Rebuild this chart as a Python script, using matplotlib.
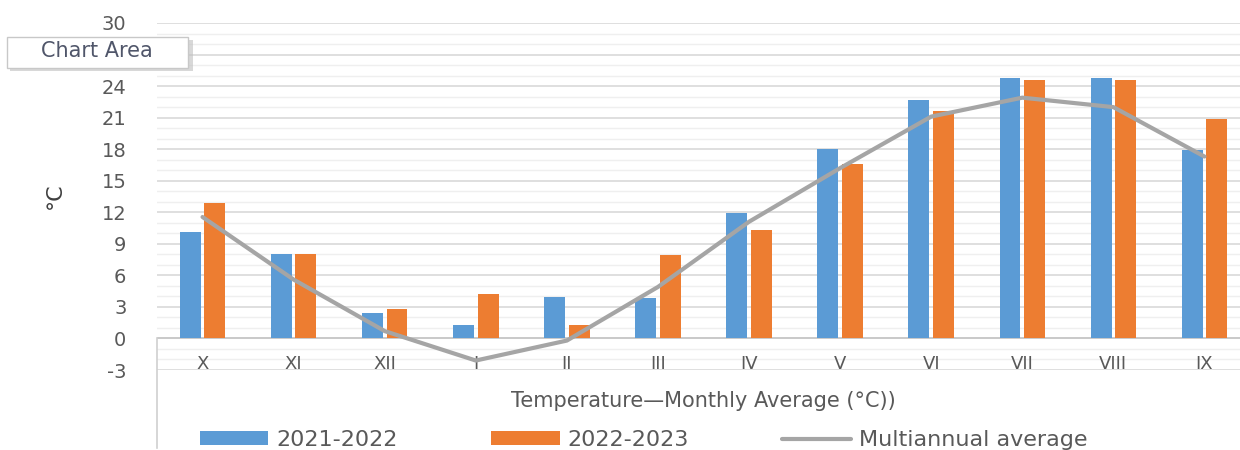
import numpy as np
import matplotlib
matplotlib.use("Agg")
import matplotlib.pyplot as plt
from matplotlib.patches import FancyBboxPatch
from matplotlib.ticker import MultipleLocator, FuncFormatter

months = ["X", "XI", "XII", "I", "II", "III", "IV", "V", "VI", "VII", "VIII", "IX"]
t_2021_2022 = [10.1, 8.0, 2.4, 1.3, 3.9, 3.85, 11.9, 18.0, 22.7, 24.8, 24.8, 17.9]
t_2022_2023 = [12.9, 8.0, 2.8, 4.25, 1.3, 7.9, 10.3, 16.6, 21.6, 24.6, 24.6, 20.9]
t_multiannual = [11.55, 5.6, 0.7, -2.1, -0.2, 4.9, 11.1, 16.2, 21.1, 22.9, 22.0, 17.3]

BLUE = "#5B9BD5"
ORANGE = "#ED7D31"
GRAY = "#A5A5A5"
TXT = "#595959"

plt.rcParams["axes.unicode_minus"] = False

fig = plt.figure(figsize=(12.4, 4.5), dpi=100)
ax = fig.add_axes([157 / 1240, 1 - 370 / 450, 1 - 157 / 1240, (370 - 23) / 450])

x = np.arange(len(months))
w = 0.23
b1 = ax.bar(x - 0.135, t_2021_2022, width=w, color=BLUE, label="2021-2022", zorder=3)
b2 = ax.bar(x + 0.135, t_2022_2023, width=w, color=ORANGE, label="2022-2023", zorder=3)
ln, = ax.plot(x, t_multiannual, color=GRAY, lw=3, solid_joinstyle="round",
              solid_capstyle="round", label="Multiannual average", zorder=4)

ax.set_xlim(-0.5, 11.39)
ax.set_ylim(-3, 30)
ax.yaxis.set_major_locator(MultipleLocator(3))
ax.yaxis.set_minor_locator(MultipleLocator(1))
# the 27 label sits under the "Chart Area" tooltip in the original
ax.yaxis.set_major_formatter(FuncFormatter(lambda v, p: "" if round(v) == 27 else f"{v:g}"))
ax.grid(axis="y", which="major", color="#D9D9D9", lw=1.2, zorder=0)
ax.grid(axis="y", which="minor", color="#EFEFEF", lw=1.0, zorder=0)
ax.axhline(0, color="#C8C8C8", lw=1.3, zorder=2)
for s in ax.spines.values():
    s.set_visible(False)
ax.set_xticks([])
ax.tick_params(axis="y", which="both", length=0, labelsize=14, labelcolor=TXT, pad=22)

# category labels sit inside the plot, just under the zero line
for i, m in enumerate(months):
    ax.text(i, -2.4, m, ha="center", va="center", fontsize=13, color=TXT)

# divider line from zero line down past the axes
ax.plot([-0.5, -0.5], [0, -10.4], color="#D0D0D0", lw=1.2, clip_on=False)

fig.text(703 / 1240, 1 - 401 / 450, "Temperature\u2014Monthly Average (\u00b0C))",
         ha="center", va="center", fontsize=15, color=TXT)
fig.text(55 / 1240, 1 - 196 / 450, "\u00b0C", rotation=90, ha="center", va="center",
         fontsize=16, color="#404040")

fig.legend([b1, b2, ln], ["2021-2022", "2022-2023", "Multiannual average"],
           loc="center", bbox_to_anchor=(0.519, 10 / 450), ncol=3, frameon=False,
           fontsize=16, handlelength=3.1, handleheight=0.6, columnspacing=4.2,
           handletextpad=0.35, labelcolor=TXT, borderpad=0.2)

# "Chart Area" tooltip overlay
fig.patches.append(FancyBboxPatch((10 / 1240, 1 - 71 / 450), 183 / 1240, 31 / 450,
                                  boxstyle="square,pad=0", transform=fig.transFigure,
                                  facecolor="#BFBFBF", edgecolor="none", alpha=0.6))
fig.patches.append(FancyBboxPatch((7 / 1240, 1 - 68 / 450), 181 / 1240, 31 / 450,
                                  boxstyle="square,pad=0", transform=fig.transFigure,
                                  facecolor="white", edgecolor="#C8C8C8", lw=1))
fig.text(97 / 1240, 1 - 51 / 450, "Chart Area", ha="center", va="center",
         fontsize=15, color="#50566A")

fig.savefig("out.png", dpi=100)
